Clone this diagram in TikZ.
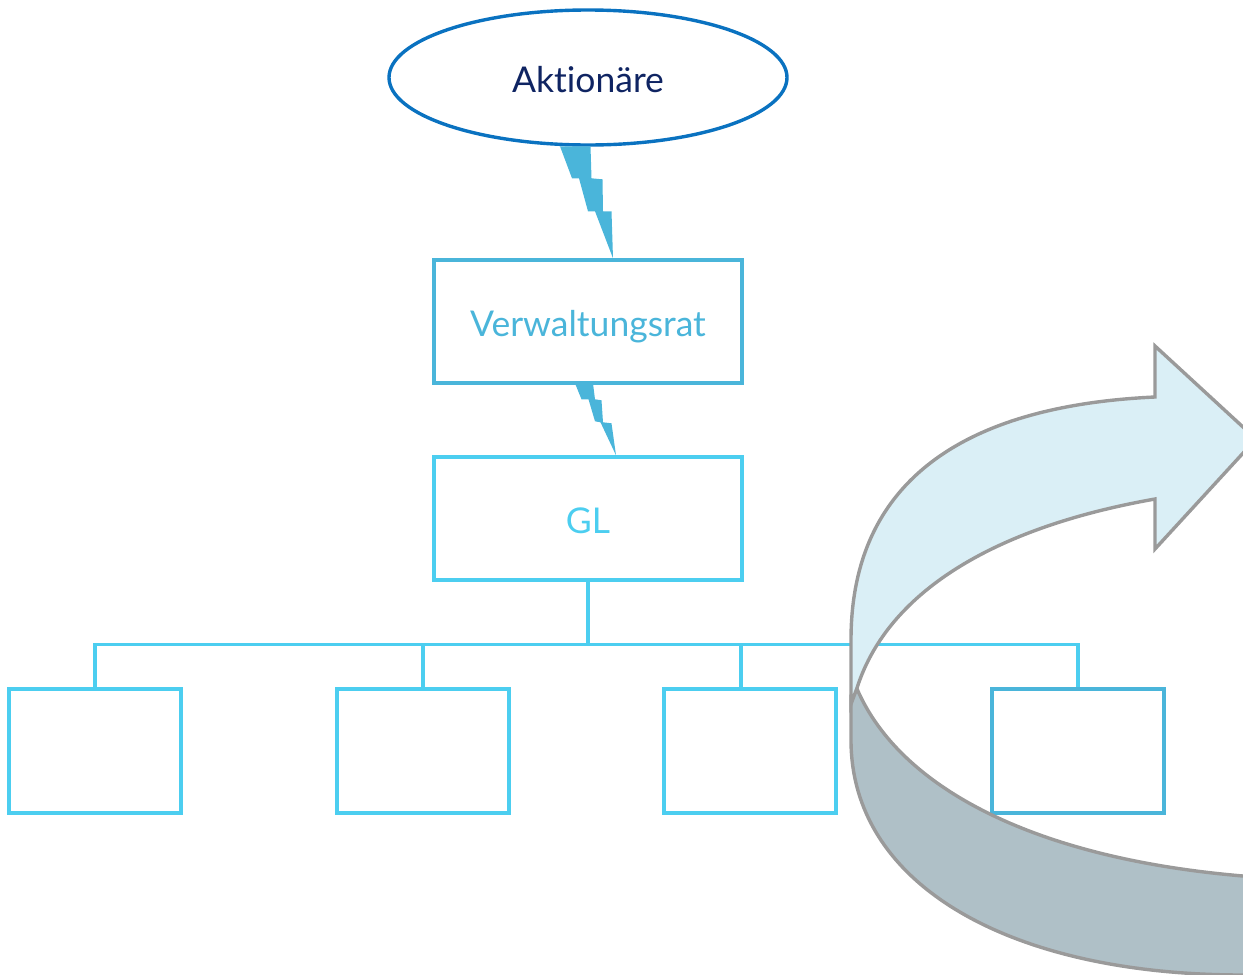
\documentclass[tikz,border=0pt]{standalone}
\usepackage{fontspec}
\setmainfont{Lato}[Ligatures=NoCommon]
\usetikzlibrary{shapes.geometric,calc}

\definecolor{navy}{HTML}{0F2462}
\definecolor{ringblue}{HTML}{0A72C0}
\definecolor{boltblue}{HTML}{4AB5DA}
\definecolor{cyanline}{HTML}{4CCEF0}
\definecolor{arrowgray}{HTML}{9A9A9A}
\definecolor{bandlight}{HTML}{DAEFF6}
\definecolor{banddark}{HTML}{AFC0C7}

\tikzset{
  label font/.style={font=\fontsize{35.5}{40}\selectfont,
    text height=34pt, text depth=4pt},
  orgbox/.style={draw, rectangle, line width=3.4pt, inner sep=0pt,
    minimum width=308pt, minimum height=123pt, label font},
  unitbox/.style={draw=cyanline, rectangle, line width=3.4pt, inner sep=0pt,
    minimum width=172pt, minimum height=124pt},
  bolt/.style={fill=boltblue, draw=none},
  tree/.style={draw=cyanline, line width=3.4pt},
  band/.style={draw=arrowgray, line width=3.4pt, line join=miter}
}

\begin{document}
\begin{tikzpicture}[x=1pt, y=-1pt]
\useasboundingbox (0,0) rectangle (1243,975);
\clip (0,0) rectangle (1243,975);

% shareholders, board, management
\node[ellipse, draw=ringblue, line width=3.4pt, inner sep=0pt,
      minimum width=398pt, minimum height=135pt, text=navy, label font]
      (aktion) at (588,77.5) {Aktionäre};
\node[orgbox, draw=boltblue, text=boltblue] (vr) at (588,321.5) {Verwaltungsrat};
\node[orgbox, draw=cyanline, text=cyanline] (gl) at (588,518.5) {GL};

% departments
\node[unitbox] (b1) at (95,751) {};
\node[unitbox] (b2) at (423,751) {};
\node[unitbox] (b3) at (750,751) {};
\node[unitbox, draw=boltblue] (b4) at (1078,751) {};

% lightning links
\fill[bolt, shift={([xshift=25pt]vr.north)}]
  (-53,-112) -- (-22.5,-112) -- (-21.5,-80) -- (-10.5,-79) -- (-10,-47)
  -- (-1.5,-47) -- (0,0) -- (-18,-47) -- (-25,-47) -- (-34,-80) -- (-41,-80) -- cycle;
\fill[bolt, shift={([xshift=28pt]gl.north)}]
  (-41,-72) -- (-23,-72) -- (-21,-56) -- (-14.5,-55) -- (-13,-33)
  -- (-4.5,-32) -- (0,0) -- (-15.5,-33) -- (-21,-34) -- (-27.5,-56) -- (-34.5,-56) -- cycle;

% tree connectors
\coordinate (bus) at ($(gl.south)+(0,63)$);
\draw[tree] (gl.south) -- (bus);
\draw[tree, line join=miter] (b1.north) -- (b1.north |- bus) -- (b4.north |- bus) -- (b4.north);
\draw[tree] (b2.north) -- (b2.north |- bus);
\draw[tree] ([xshift=-9pt]b3.north) -- ([xshift=-9pt]b3.north |- bus);

% circular arrow: lower band
\path[band, fill=banddark]
  (855,684) -- (851,696) -- (851,740)
  .. controls (851,885) and (1010,975) .. (1243,975)
  -- (1270,975) -- (1270,879) -- (1243,876)
  .. controls (1030,858) and (895,785) .. (855,684) -- cycle;

% circular arrow: upper band with head
\path[band, fill=bandlight]
  (851,704) -- (851,640)
  .. controls (851,470) and (980,405) .. (1155,397)
  -- (1155,346) -- (1256,439) -- (1155,549) -- (1155,499)
  .. controls (980,530) and (885,600) .. (857,688) -- cycle;
\end{tikzpicture}
\end{document}
